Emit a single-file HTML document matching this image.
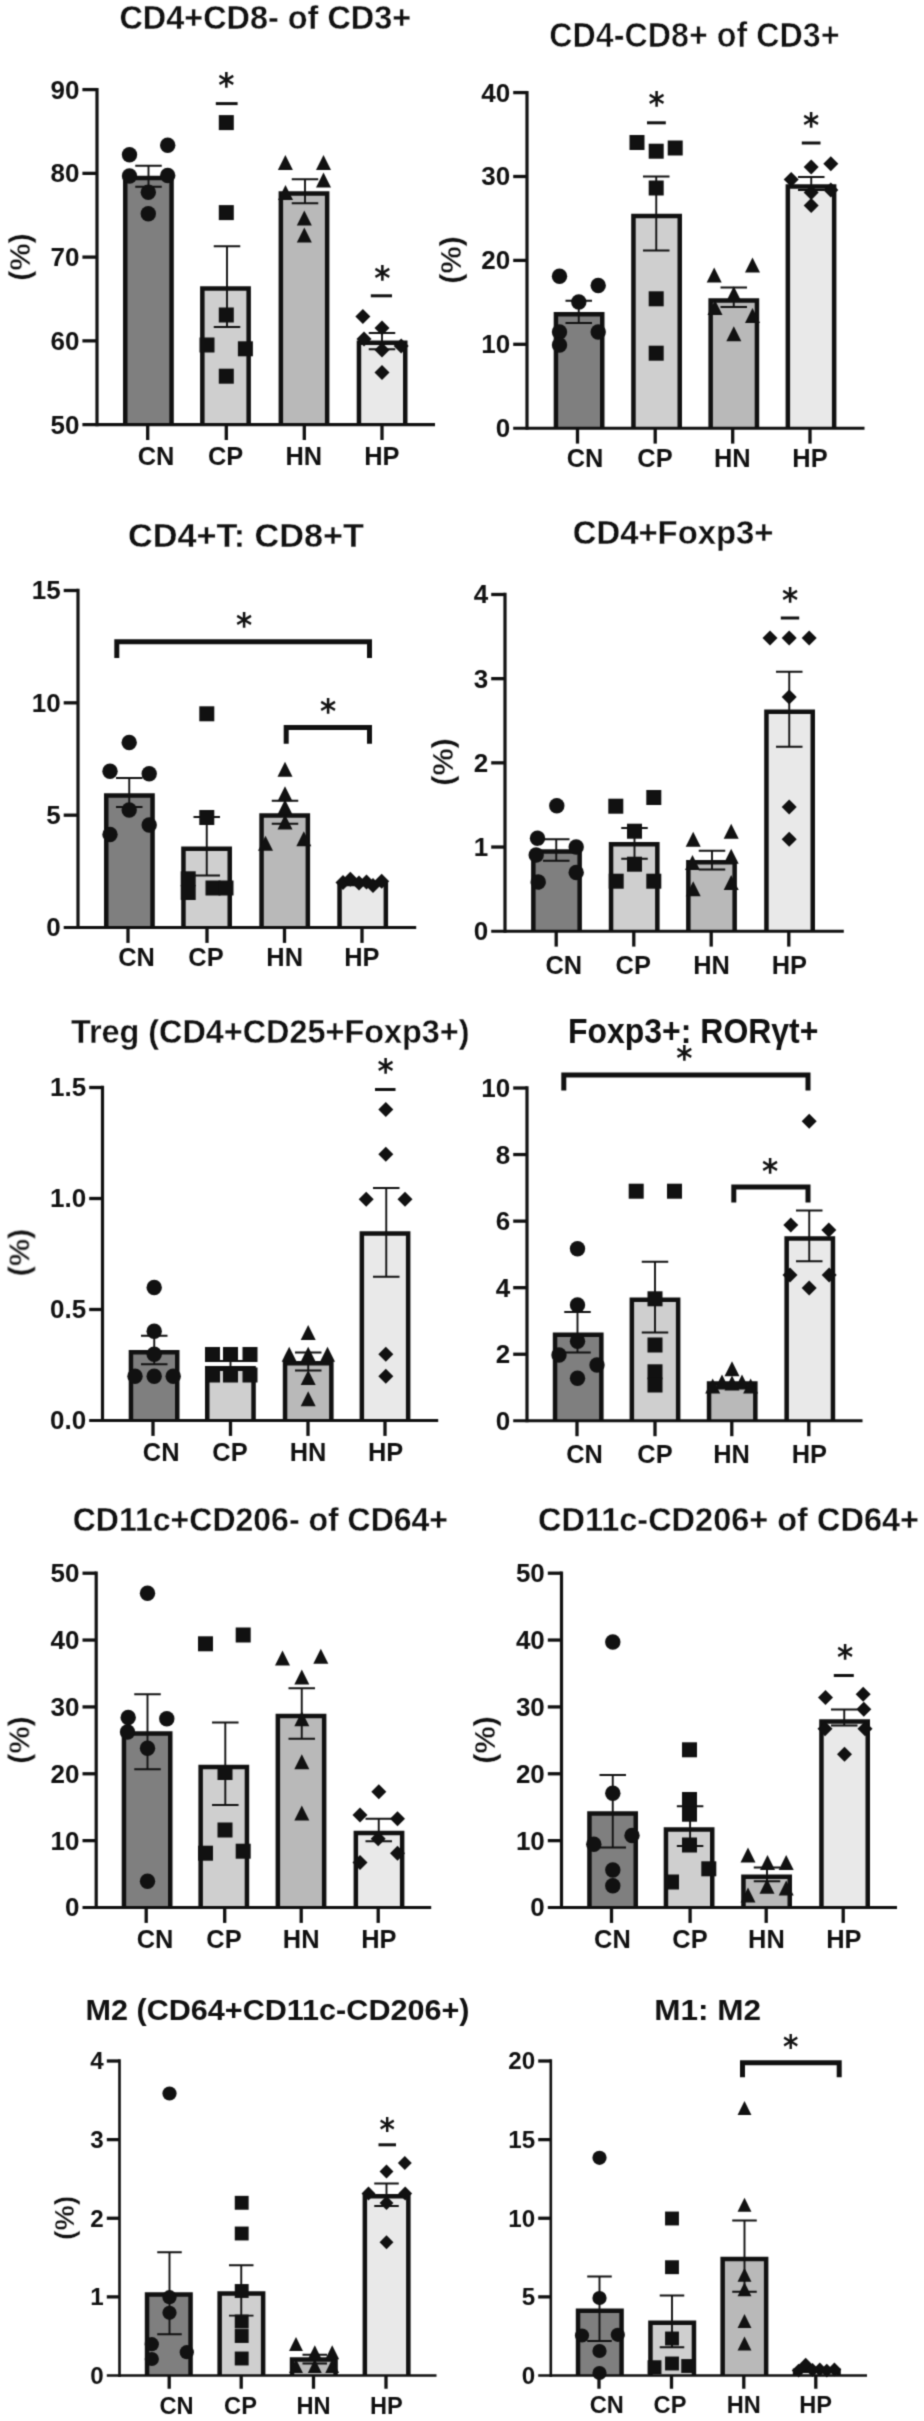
<!DOCTYPE html>
<html lang="en">
<head>
<meta charset="utf-8">
<title>Flow cytometry bar charts</title>
<style>
html,body{margin:0;padding:0;background:#fff}
body{width:924px;height:2421px;overflow:hidden}
svg{display:block}
text{font-family:"Liberation Sans", sans-serif;font-weight:bold;fill:#111111}
.ti{text-anchor:middle;stroke:#fff;paint-order:fill stroke}
.yl{text-anchor:end}
.xl{text-anchor:middle}
.yt{text-anchor:middle;stroke:#fff;stroke-width:0.35px;paint-order:fill stroke}
.st{font-family:"DejaVu Sans","Liberation Sans",sans-serif;text-anchor:middle;font-weight:bold}
.bar{stroke:#111111}
.ax{stroke:#111111;fill:none}
.xax{stroke:#111111;fill:none}
.tk{stroke:#111111;stroke-width:3.3;fill:none}
.err path{stroke:#111111;stroke-width:1.9;fill:none}
.pt{fill:#111111}
.sl{stroke:#111111;stroke-width:3.0;fill:none}
.br{stroke:#111111;stroke-width:5.0;fill:none;stroke-linejoin:miter}
</style>
</head>
<body>
<svg width="924" height="2421" viewBox="0 0 924 2421">
<defs><filter id="soft" x="0" y="0" width="924" height="2421" filterUnits="userSpaceOnUse" color-interpolation-filters="sRGB"><feConvolveMatrix order="3" kernelMatrix="0.03108 0.11414 0.03108 0.11414 0.41911 0.11414 0.03108 0.11414 0.03108" divisor="1" edgeMode="duplicate"/></filter></defs>
<rect x="0" y="0" width="924" height="2421" fill="#fff"/>
<g filter="url(#soft)">
<g class="panel">
<path class="bar" d="M125.25 424.6 V178.05 H171.55 V424.6" fill="#7f7f7f" stroke-width="4.5"/>
<path class="bar" d="M202.35 424.6 V288.45 H248.65 V424.6" fill="#cfcfcf" stroke-width="4.5"/>
<path class="bar" d="M280.85 424.6 V193.45 H327.15 V424.6" fill="#b9b9b9" stroke-width="4.5"/>
<path class="bar" d="M358.95 424.6 V342.75 H405.25 V424.6" fill="#e9e9e9" stroke-width="4.5"/>
<path class="ax" stroke-width="3.2" d="M97 87.95 V426.15"/>
<path class="xax" stroke-width="3.1" d="M82.4 424.6 H435"/>
<path class="tk" d="M82.4 89.6 H97"/>
<text class="yl" font-size="26" x="79.4" y="98.54">90</text>
<path class="tk" d="M82.4 173.35 H97"/>
<text class="yl" font-size="26" x="79.4" y="182.29">80</text>
<path class="tk" d="M82.4 257.1 H97"/>
<text class="yl" font-size="26" x="79.4" y="266.04">70</text>
<path class="tk" d="M82.4 340.85 H97"/>
<text class="yl" font-size="26" x="79.4" y="349.79">60</text>
<text class="yl" font-size="26" x="79.4" y="433.54">50</text>
<path class="tk" d="M147.7 424.6 V440"/>
<text class="xl" font-size="25.4" x="156" y="465.3">CN</text>
<path class="tk" d="M226.3 424.6 V440"/>
<text class="xl" font-size="25.4" x="225.6" y="465.3">CP</text>
<path class="tk" d="M304.3 424.6 V440"/>
<text class="xl" font-size="25.4" x="303.8" y="465.3">HN</text>
<path class="tk" d="M382 424.6 V440"/>
<text class="xl" font-size="25.4" x="381.9" y="465.3">HP</text>
<g class="err">
<path d="M148.5 165.7 V186.75 M135.25 165.7 H161.75 M135.25 186.75 H161.75"/>
<path d="M227 246.2 V327 M213.75 246.2 H240.25 M213.75 327 H240.25"/>
<path d="M305 179.2 V203.3 M291.75 179.2 H318.25 M291.75 203.3 H318.25"/>
<path d="M382 333 V349.2 M368.75 333 H395.25 M368.75 349.2 H395.25"/>
</g>
<g class="pt">
<circle cx="129.5" cy="154.7" r="7.7"/>
<circle cx="167.7" cy="145.2" r="7.7"/>
<circle cx="129.5" cy="176" r="7.7"/>
<circle cx="167.7" cy="175.5" r="7.7"/>
<circle cx="148.3" cy="192.3" r="7.7"/>
<circle cx="148.3" cy="213.8" r="7.7"/>
<rect x="218.8" y="115.1" width="15" height="15"/>
<rect x="218.8" y="205.1" width="15" height="15"/>
<rect x="218.8" y="307.5" width="15" height="15"/>
<rect x="199.5" y="337.5" width="15" height="15"/>
<rect x="237.9" y="341.3" width="15" height="15"/>
<rect x="218.8" y="368.7" width="15" height="15"/>
<polygon points="285.4,155 292.9,170 277.9,170"/>
<polygon points="323.5,155 331,170 316,170"/>
<polygon points="323.5,172.5 331,187.5 316,187.5"/>
<polygon points="285.5,185 293,200 278,200"/>
<polygon points="304.3,210.5 311.8,225.5 296.8,225.5"/>
<polygon points="304.3,227.5 311.8,242.5 296.8,242.5"/>
<polygon points="362.9,309.1 370.4,316.6 362.9,324.1 355.4,316.6"/>
<polygon points="382,320.5 389.5,328 382,335.5 374.5,328"/>
<polygon points="364,331.5 371.5,339 364,346.5 356.5,339"/>
<polygon points="401.2,338.5 408.7,346 401.2,353.5 393.7,346"/>
<polygon points="382,342.5 389.5,350 382,357.5 374.5,350"/>
<polygon points="382,365 389.5,372.5 382,380 374.5,372.5"/>
</g>
<text class="ti" font-size="33" stroke-width="0.3" x="265.3" y="28.8" textLength="291.7" lengthAdjust="spacingAndGlyphs">CD4+CD8- of CD3+</text>
<text class="yt" font-size="29" transform="translate(30.1 257) rotate(-90)" textLength="47.5" lengthAdjust="spacingAndGlyphs">(%)</text>
<text class="st" font-size="31" transform="translate(226.3 80) scale(1 1.1)" y="15.59">*</text>
<text class="st" font-size="31" transform="translate(382.3 272.4) scale(1 1.1)" y="15.59">*</text>
<path class="sl" d="M215.8 103.6 H237.6"/>
<path class="sl" d="M370.8 295.8 H392"/>
</g>
<g class="panel">
<path class="bar" d="M555.95 428.2 V314.25 H602.25 V428.2" fill="#7f7f7f" stroke-width="4.5"/>
<path class="bar" d="M633.45 428.2 V216.05 H679.75 V428.2" fill="#cfcfcf" stroke-width="4.5"/>
<path class="bar" d="M710.65 428.2 V300.45 H756.95 V428.2" fill="#b9b9b9" stroke-width="4.5"/>
<path class="bar" d="M787.85 428.2 V186.45 H834.15 V428.2" fill="#e9e9e9" stroke-width="4.5"/>
<path class="ax" stroke-width="3.2" d="M527 90.95 V429.75"/>
<path class="xax" stroke-width="3.1" d="M513.2 428.2 H864.5"/>
<path class="tk" d="M513.2 92.6 H527"/>
<text class="yl" font-size="26" x="510.2" y="101.54">40</text>
<path class="tk" d="M513.2 176.5 H527"/>
<text class="yl" font-size="26" x="510.2" y="185.44">30</text>
<path class="tk" d="M513.2 260.4 H527"/>
<text class="yl" font-size="26" x="510.2" y="269.34">20</text>
<path class="tk" d="M513.2 344.3 H527"/>
<text class="yl" font-size="26" x="510.2" y="353.24">10</text>
<text class="yl" font-size="26" x="510.2" y="437.14">0</text>
<path class="tk" d="M577.5 428.2 V443.6"/>
<text class="xl" font-size="25.4" x="585" y="467.3">CN</text>
<path class="tk" d="M655.2 428.2 V443.6"/>
<text class="xl" font-size="25.4" x="655" y="467.3">CP</text>
<path class="tk" d="M732.7 428.2 V443.6"/>
<text class="xl" font-size="25.4" x="732.3" y="467.3">HN</text>
<path class="tk" d="M810 428.2 V443.6"/>
<text class="xl" font-size="25.4" x="810" y="467.3">HP</text>
<g class="err">
<path d="M578.75 300.75 V323 M565.5 300.75 H592 M565.5 323 H592"/>
<path d="M656.25 176.5 V250.5 M643 176.5 H669.5 M643 250.5 H669.5"/>
<path d="M733.75 287.5 V307 M720.5 287.5 H747 M720.5 307 H747"/>
<path d="M811.25 177 V190 M798 177 H824.5 M798 190 H824.5"/>
</g>
<g class="pt">
<circle cx="559.5" cy="276.2" r="7.7"/>
<circle cx="598.2" cy="285.5" r="7.7"/>
<circle cx="578.8" cy="302" r="7.7"/>
<circle cx="559.5" cy="332" r="7.7"/>
<circle cx="598.2" cy="332" r="7.7"/>
<circle cx="559.5" cy="345" r="7.7"/>
<rect x="629.5" y="135" width="15" height="15"/>
<rect x="648.7" y="143.7" width="15" height="15"/>
<rect x="667.7" y="140.5" width="15" height="15"/>
<rect x="648.7" y="180.5" width="15" height="15"/>
<rect x="648.7" y="291.3" width="15" height="15"/>
<rect x="648.7" y="345.7" width="15" height="15"/>
<polygon points="714.2,267.5 721.7,282.5 706.7,282.5"/>
<polygon points="752.5,257.5 760,272.5 745,272.5"/>
<polygon points="733.8,286.3 741.3,301.3 726.3,301.3"/>
<polygon points="715,300 722.5,315 707.5,315"/>
<polygon points="752.5,308 760,323 745,323"/>
<polygon points="733.8,326.3 741.3,341.3 726.3,341.3"/>
<polygon points="830.8,156.3 838.3,163.8 830.8,171.3 823.3,163.8"/>
<polygon points="811.2,159.5 818.7,167 811.2,174.5 803.7,167"/>
<polygon points="791.2,172 798.7,179.5 791.2,187 783.7,179.5"/>
<polygon points="830.8,182.5 838.3,190 830.8,197.5 823.3,190"/>
<polygon points="811.2,185 818.7,192.5 811.2,200 803.7,192.5"/>
<polygon points="811.2,198 818.7,205.5 811.2,213 803.7,205.5"/>
</g>
<text class="ti" font-size="34.5" stroke-width="0.6" x="694.4" y="47.3" textLength="290.3" lengthAdjust="spacingAndGlyphs">CD4-CD8+ of CD3+</text>
<text class="yt" font-size="29" transform="translate(460.9 260) rotate(-90)" textLength="47.5" lengthAdjust="spacingAndGlyphs">(%)</text>
<text class="st" font-size="31" transform="translate(656.7 99.1) scale(1 1.1)" y="15.59">*</text>
<text class="st" font-size="31" transform="translate(811.2 119.6) scale(1 1.1)" y="15.59">*</text>
<path class="sl" d="M647 122.8 H665.8"/>
<path class="sl" d="M801.8 143 H820.5"/>
</g>
<g class="panel">
<path class="bar" d="M106.25 927.5 V795.45 H152.55 V927.5" fill="#7f7f7f" stroke-width="4.5"/>
<path class="bar" d="M183.45 927.5 V848.85 H229.75 V927.5" fill="#cfcfcf" stroke-width="4.5"/>
<path class="bar" d="M261.55 927.5 V815.45 H307.85 V927.5" fill="#b9b9b9" stroke-width="4.5"/>
<path class="bar" d="M339.55 927.5 V884.05 H385.85 V927.5" fill="#e9e9e9" stroke-width="4.5"/>
<path class="ax" stroke-width="3.2" d="M78 588.85 V929.05"/>
<path class="xax" stroke-width="3.1" d="M63.7 927.5 H416.2"/>
<path class="tk" d="M63.7 590.5 H78"/>
<text class="yl" font-size="26" x="60.7" y="599.44">15</text>
<path class="tk" d="M63.7 702.83 H78"/>
<text class="yl" font-size="26" x="60.7" y="711.78">10</text>
<path class="tk" d="M63.7 815.17 H78"/>
<text class="yl" font-size="26" x="60.7" y="824.11">5</text>
<text class="yl" font-size="26" x="60.7" y="936.44">0</text>
<path class="tk" d="M128 927.5 V942.9"/>
<text class="xl" font-size="25.4" x="136.5" y="966.3">CN</text>
<path class="tk" d="M207 927.5 V942.9"/>
<text class="xl" font-size="25.4" x="206" y="966.3">CP</text>
<path class="tk" d="M284.5 927.5 V942.9"/>
<text class="xl" font-size="25.4" x="284.7" y="966.3">HN</text>
<path class="tk" d="M362 927.5 V942.9"/>
<text class="xl" font-size="25.4" x="361.9" y="966.3">HP</text>
<g class="err">
<path d="M129.25 778 V807 M116 778 H142.5 M116 807 H142.5"/>
<path d="M206.75 817 V875.5 M193.5 817 H220 M193.5 875.5 H220"/>
<path d="M285 800.75 V823.75 M271.75 800.75 H298.25 M271.75 823.75 H298.25"/>
</g>
<g class="pt">
<circle cx="129.2" cy="742.5" r="7.7"/>
<circle cx="110" cy="771.2" r="7.7"/>
<circle cx="149.2" cy="773.8" r="7.7"/>
<circle cx="129.2" cy="810" r="7.7"/>
<circle cx="149.2" cy="825" r="7.7"/>
<circle cx="110" cy="834.5" r="7.7"/>
<rect x="199.3" y="706.3" width="15" height="15"/>
<rect x="199.3" y="810" width="15" height="15"/>
<rect x="180.7" y="871.3" width="15" height="15"/>
<rect x="180.7" y="885" width="15" height="15"/>
<rect x="205.5" y="880.5" width="15" height="15"/>
<rect x="218.5" y="880.5" width="15" height="15"/>
<polygon points="285,761.7 292.5,776.7 277.5,776.7"/>
<polygon points="285,786.3 292.5,801.3 277.5,801.3"/>
<polygon points="285,799.5 292.5,814.5 277.5,814.5"/>
<polygon points="285,814.5 292.5,829.5 277.5,829.5"/>
<polygon points="265.5,835.7 273,850.7 258,850.7"/>
<polygon points="303.8,831.3 311.3,846.3 296.3,846.3"/>
<polygon points="343,875 350.5,882.5 343,890 335.5,882.5"/>
<polygon points="350.3,871.8 357.8,879.3 350.3,886.8 342.8,879.3"/>
<polygon points="359,875.5 366.5,883 359,890.5 351.5,883"/>
<polygon points="366.5,874.5 374,882 366.5,889.5 359,882"/>
<polygon points="373,878.1 380.5,885.6 373,893.1 365.5,885.6"/>
<polygon points="381.7,873.8 389.2,881.3 381.7,888.8 374.2,881.3"/>
</g>
<text class="ti" font-size="33" stroke-width="0.3" x="246" y="547" textLength="236" lengthAdjust="spacingAndGlyphs">CD4+T: CD8+T</text>
<text class="st" font-size="31" transform="translate(244.2 620) scale(1 1.1)" y="15.59">*</text>
<text class="st" font-size="31" transform="translate(328.2 705.5) scale(1 1.1)" y="15.59">*</text>
<path class="br" d="M116.8 658 V641.8 H369.5 V658"/>
<path class="br" d="M286.2 743.8 V727.5 H369.5 V743.8"/>
</g>
<g class="panel">
<path class="bar" d="M533.35 931.2 V851.45 H579.65 V931.2" fill="#7f7f7f" stroke-width="4.5"/>
<path class="bar" d="M611.05 931.2 V844.25 H657.35 V931.2" fill="#cfcfcf" stroke-width="4.5"/>
<path class="bar" d="M688.35 931.2 V862.25 H734.65 V931.2" fill="#b9b9b9" stroke-width="4.5"/>
<path class="bar" d="M766.45 931.2 V711.75 H812.75 V931.2" fill="#e9e9e9" stroke-width="4.5"/>
<path class="ax" stroke-width="3.2" d="M505 592.85 V932.75"/>
<path class="xax" stroke-width="3.1" d="M491.2 931.2 H843.8"/>
<path class="tk" d="M491.2 594.5 H505"/>
<text class="yl" font-size="26" x="488.2" y="603.44">4</text>
<path class="tk" d="M491.2 678.67 H505"/>
<text class="yl" font-size="26" x="488.2" y="687.62">3</text>
<path class="tk" d="M491.2 762.85 H505"/>
<text class="yl" font-size="26" x="488.2" y="771.79">2</text>
<path class="tk" d="M491.2 847.03 H505"/>
<text class="yl" font-size="26" x="488.2" y="855.97">1</text>
<text class="yl" font-size="26" x="488.2" y="940.14">0</text>
<path class="tk" d="M556.2 931.2 V946.6"/>
<text class="xl" font-size="25.4" x="563.8" y="973.5">CN</text>
<path class="tk" d="M633.8 931.2 V946.6"/>
<text class="xl" font-size="25.4" x="633.2" y="973.5">CP</text>
<path class="tk" d="M711.2 931.2 V946.6"/>
<text class="xl" font-size="25.4" x="711.5" y="973.5">HN</text>
<path class="tk" d="M788.8 931.2 V946.6"/>
<text class="xl" font-size="25.4" x="789.4" y="973.5">HP</text>
<g class="err">
<path d="M556.25 839.25 V860.75 M543 839.25 H569.5 M543 860.75 H569.5"/>
<path d="M634.5 828 V858.75 M621.25 828 H647.75 M621.25 858.75 H647.75"/>
<path d="M712 850.75 V869.5 M698.75 850.75 H725.25 M698.75 869.5 H725.25"/>
<path d="M789.25 671.75 V746.75 M776 671.75 H802.5 M776 746.75 H802.5"/>
</g>
<g class="pt">
<circle cx="556.8" cy="805.8" r="7.7"/>
<circle cx="537.5" cy="838.2" r="7.7"/>
<circle cx="576.2" cy="847" r="7.7"/>
<circle cx="536.2" cy="855" r="7.7"/>
<circle cx="576.2" cy="872.5" r="7.7"/>
<circle cx="538.2" cy="882" r="7.7"/>
<rect x="608.3" y="798.7" width="15" height="15"/>
<rect x="646.3" y="790" width="15" height="15"/>
<rect x="627" y="823.7" width="15" height="15"/>
<rect x="627" y="856.7" width="15" height="15"/>
<rect x="608.7" y="873.7" width="15" height="15"/>
<rect x="646.3" y="873.7" width="15" height="15"/>
<polygon points="693.2,831.7 700.7,846.7 685.7,846.7"/>
<polygon points="731.2,823.7 738.7,838.7 723.7,838.7"/>
<polygon points="731.2,848.7 738.7,863.7 723.7,863.7"/>
<polygon points="692.5,855 700,870 685,870"/>
<polygon points="731.2,875 738.7,890 723.7,890"/>
<polygon points="693.2,881.3 700.7,896.3 685.7,896.3"/>
<polygon points="770,630.5 777.5,638 770,645.5 762.5,638"/>
<polygon points="789.2,630.5 796.7,638 789.2,645.5 781.7,638"/>
<polygon points="809.2,630.5 816.7,638 809.2,645.5 801.7,638"/>
<polygon points="789.2,689.5 796.7,697 789.2,704.5 781.7,697"/>
<polygon points="789.2,799.5 796.7,807 789.2,814.5 781.7,807"/>
<polygon points="789.2,831.7 796.7,839.2 789.2,846.7 781.7,839.2"/>
</g>
<text class="ti" font-size="33" stroke-width="0.3" x="673.1" y="544.3" textLength="200.8" lengthAdjust="spacingAndGlyphs">CD4+Foxp3+</text>
<text class="yt" font-size="29" transform="translate(453.1 762) rotate(-90)" textLength="47.5" lengthAdjust="spacingAndGlyphs">(%)</text>
<text class="st" font-size="31" transform="translate(790 594.4) scale(1 1.1)" y="15.59">*</text>
<path class="sl" d="M780.8 618 H799.2"/>
</g>
<g class="panel">
<path class="bar" d="M130.95 1420.5 V1352.25 H177.25 V1420.5" fill="#7f7f7f" stroke-width="4.5"/>
<path class="bar" d="M207.25 1420.5 V1368.25 H253.55 V1420.5" fill="#cfcfcf" stroke-width="4.5"/>
<path class="bar" d="M285.05 1420.5 V1363.25 H331.35 V1420.5" fill="#b9b9b9" stroke-width="4.5"/>
<path class="bar" d="M361.85 1420.5 V1233.45 H408.15 V1420.5" fill="#e9e9e9" stroke-width="4.5"/>
<path class="ax" stroke-width="3.2" d="M102.5 1085.85 V1422.05"/>
<path class="xax" stroke-width="3.1" d="M89.2 1420.5 H438.2"/>
<path class="tk" d="M89.2 1087.5 H102.5"/>
<text class="yl" font-size="26" x="86.2" y="1096.44">1.5</text>
<path class="tk" d="M89.2 1198.5 H102.5"/>
<text class="yl" font-size="26" x="86.2" y="1207.44">1.0</text>
<path class="tk" d="M89.2 1309.5 H102.5"/>
<text class="yl" font-size="26" x="86.2" y="1318.44">0.5</text>
<text class="yl" font-size="26" x="86.2" y="1429.44">0.0</text>
<path class="tk" d="M153 1420.5 V1435.9"/>
<text class="xl" font-size="25.4" x="161.2" y="1460.5">CN</text>
<path class="tk" d="M230.5 1420.5 V1435.9"/>
<text class="xl" font-size="25.4" x="230" y="1460.5">CP</text>
<path class="tk" d="M308 1420.5 V1435.9"/>
<text class="xl" font-size="25.4" x="308" y="1460.5">HN</text>
<path class="tk" d="M385 1420.5 V1435.9"/>
<text class="xl" font-size="25.4" x="385.6" y="1460.5">HP</text>
<g class="err">
<path d="M154.25 1335.75 V1364.25 M141 1335.75 H167.5 M141 1364.25 H167.5"/>
<path d="M230.5 1361 V1370 M217.25 1361 H243.75 M217.25 1370 H243.75"/>
<path d="M308.25 1352.5 V1370.5 M295 1352.5 H321.5 M295 1370.5 H321.5"/>
<path d="M386.25 1188 V1276.75 M373 1188 H399.5 M373 1276.75 H399.5"/>
</g>
<g class="pt">
<circle cx="154.2" cy="1287.5" r="7.7"/>
<circle cx="154.2" cy="1331.2" r="7.7"/>
<circle cx="154.2" cy="1354.2" r="7.7"/>
<circle cx="135" cy="1376.2" r="7.7"/>
<circle cx="154.2" cy="1376.2" r="7.7"/>
<circle cx="173.2" cy="1376.2" r="7.7"/>
<rect x="205" y="1347" width="15" height="15"/>
<rect x="223" y="1347" width="15" height="15"/>
<rect x="242.5" y="1347" width="15" height="15"/>
<rect x="205" y="1367.5" width="15" height="15"/>
<rect x="223" y="1367.5" width="15" height="15"/>
<rect x="242.5" y="1367.5" width="15" height="15"/>
<polygon points="308.2,1325 315.7,1340 300.7,1340"/>
<polygon points="289.2,1346.7 296.7,1361.7 281.7,1361.7"/>
<polygon points="308.2,1346.7 315.7,1361.7 300.7,1361.7"/>
<polygon points="327.5,1346.7 335,1361.7 320,1361.7"/>
<polygon points="308.2,1370 315.7,1385 300.7,1385"/>
<polygon points="308.2,1391.3 315.7,1406.3 300.7,1406.3"/>
<polygon points="385.8,1102 393.3,1109.5 385.8,1117 378.3,1109.5"/>
<polygon points="385.8,1146.7 393.3,1154.2 385.8,1161.7 378.3,1154.2"/>
<polygon points="366.2,1191.7 373.7,1199.2 366.2,1206.7 358.7,1199.2"/>
<polygon points="405,1191.7 412.5,1199.2 405,1206.7 397.5,1199.2"/>
<polygon points="385.8,1346.7 393.3,1354.2 385.8,1361.7 378.3,1354.2"/>
<polygon points="385.8,1368.7 393.3,1376.2 385.8,1383.7 378.3,1376.2"/>
</g>
<text class="ti" font-size="33" stroke-width="0.3" x="270.2" y="1043.2" textLength="398.5" lengthAdjust="spacingAndGlyphs">Treg (CD4+CD25+Foxp3+)</text>
<text class="yt" font-size="29" transform="translate(29.4 1252.5) rotate(-90)" textLength="47.5" lengthAdjust="spacingAndGlyphs">(%)</text>
<text class="st" font-size="31" transform="translate(385.5 1066) scale(1 1.1)" y="15.59">*</text>
<path class="sl" d="M375 1089.5 H395.5"/>
</g>
<g class="panel">
<path class="bar" d="M555.05 1420.8 V1334.75 H601.35 V1420.8" fill="#7f7f7f" stroke-width="4.5"/>
<path class="bar" d="M631.85 1420.8 V1299.75 H678.15 V1420.8" fill="#cfcfcf" stroke-width="4.5"/>
<path class="bar" d="M709.05 1420.8 V1383.45 H755.35 V1420.8" fill="#b9b9b9" stroke-width="4.5"/>
<path class="bar" d="M786.65 1420.8 V1238.45 H832.95 V1420.8" fill="#e9e9e9" stroke-width="4.5"/>
<path class="ax" stroke-width="3.2" d="M527 1086.35 V1422.35"/>
<path class="xax" stroke-width="3.1" d="M513.2 1420.8 H862.5"/>
<path class="tk" d="M513.2 1088 H527"/>
<text class="yl" font-size="26" x="510.2" y="1096.94">10</text>
<path class="tk" d="M513.2 1154.56 H527"/>
<text class="yl" font-size="26" x="510.2" y="1163.5">8</text>
<path class="tk" d="M513.2 1221.12 H527"/>
<text class="yl" font-size="26" x="510.2" y="1230.06">6</text>
<path class="tk" d="M513.2 1287.68 H527"/>
<text class="yl" font-size="26" x="510.2" y="1296.62">4</text>
<path class="tk" d="M513.2 1354.24 H527"/>
<text class="yl" font-size="26" x="510.2" y="1363.18">2</text>
<text class="yl" font-size="26" x="510.2" y="1429.74">0</text>
<path class="tk" d="M577 1420.8 V1436.2"/>
<text class="xl" font-size="25.4" x="584.5" y="1462.5">CN</text>
<path class="tk" d="M655 1420.8 V1436.2"/>
<text class="xl" font-size="25.4" x="655" y="1462.5">CP</text>
<path class="tk" d="M731.8 1420.8 V1436.2"/>
<text class="xl" font-size="25.4" x="731.5" y="1462.5">HN</text>
<path class="tk" d="M808.8 1420.8 V1436.2"/>
<text class="xl" font-size="25.4" x="809.4" y="1462.5">HP</text>
<g class="err">
<path d="M577.5 1312 V1352.5 M564.25 1312 H590.75 M564.25 1352.5 H590.75"/>
<path d="M655 1261.75 V1332.5 M641.75 1261.75 H668.25 M641.75 1332.5 H668.25"/>
<path d="M809.25 1210.5 V1261.25 M796 1210.5 H822.5 M796 1261.25 H822.5"/>
</g>
<g class="pt">
<circle cx="577.5" cy="1248.8" r="7.7"/>
<circle cx="577.5" cy="1305" r="7.7"/>
<circle cx="577.5" cy="1341.2" r="7.7"/>
<circle cx="559" cy="1355" r="7.7"/>
<circle cx="597" cy="1365" r="7.7"/>
<circle cx="577.5" cy="1378.2" r="7.7"/>
<rect x="628.7" y="1183.7" width="15" height="15"/>
<rect x="667" y="1183.7" width="15" height="15"/>
<rect x="647.5" y="1291.3" width="15" height="15"/>
<rect x="647.5" y="1337.5" width="15" height="15"/>
<rect x="647.5" y="1364.3" width="15" height="15"/>
<rect x="647.5" y="1377.5" width="15" height="15"/>
<polygon points="732,1361.2 739.5,1376.2 724.5,1376.2"/>
<polygon points="712.7,1378.5 720.2,1393.5 705.2,1393.5"/>
<polygon points="722,1374.5 729.5,1389.5 714.5,1389.5"/>
<polygon points="732,1375.5 739.5,1390.5 724.5,1390.5"/>
<polygon points="742,1374.5 749.5,1389.5 734.5,1389.5"/>
<polygon points="750.6,1378.5 758.1,1393.5 743.1,1393.5"/>
<polygon points="809.2,1113.7 816.7,1121.2 809.2,1128.7 801.7,1121.2"/>
<polygon points="790.8,1217.5 798.3,1225 790.8,1232.5 783.3,1225"/>
<polygon points="828.8,1222.5 836.3,1230 828.8,1237.5 821.3,1230"/>
<polygon points="790,1267.5 797.5,1275 790,1282.5 782.5,1275"/>
<polygon points="829.2,1267.5 836.7,1275 829.2,1282.5 821.7,1275"/>
<polygon points="809.2,1280.5 816.7,1288 809.2,1295.5 801.7,1288"/>
</g>
<text class="ti" font-size="34.5" stroke-width="0" x="693.2" y="1042.5" textLength="250.5" lengthAdjust="spacingAndGlyphs">Foxp3+: RORγt+</text>
<text class="st" font-size="31" transform="translate(684.4 1052.8) scale(1 1.1)" y="15.59">*</text>
<text class="st" font-size="31" transform="translate(770 1165.5) scale(1 1.1)" y="15.59">*</text>
<path class="br" d="M563.8 1090.5 V1075 H808 V1090.5"/>
<path class="br" d="M733.8 1202.5 V1187 H808 V1202.5"/>
</g>
<g class="panel">
<path class="bar" d="M123.95 1907.5 V1733.45 H170.25 V1907.5" fill="#7f7f7f" stroke-width="4.5"/>
<path class="bar" d="M200.65 1907.5 V1767.05 H246.95 V1907.5" fill="#cfcfcf" stroke-width="4.5"/>
<path class="bar" d="M277.85 1907.5 V1716.05 H324.15 V1907.5" fill="#b9b9b9" stroke-width="4.5"/>
<path class="bar" d="M355.85 1907.5 V1833.05 H402.15 V1907.5" fill="#e9e9e9" stroke-width="4.5"/>
<path class="ax" stroke-width="3.2" d="M96.2 1571.55 V1909.05"/>
<path class="xax" stroke-width="3.1" d="M82.5 1907.5 H431.2"/>
<path class="tk" d="M82.5 1573.2 H96.2"/>
<text class="yl" font-size="26" x="79.5" y="1582.14">50</text>
<path class="tk" d="M82.5 1640.06 H96.2"/>
<text class="yl" font-size="26" x="79.5" y="1649">40</text>
<path class="tk" d="M82.5 1706.92 H96.2"/>
<text class="yl" font-size="26" x="79.5" y="1715.86">30</text>
<path class="tk" d="M82.5 1773.78 H96.2"/>
<text class="yl" font-size="26" x="79.5" y="1782.72">20</text>
<path class="tk" d="M82.5 1840.64 H96.2"/>
<text class="yl" font-size="26" x="79.5" y="1849.58">10</text>
<text class="yl" font-size="26" x="79.5" y="1916.44">0</text>
<path class="tk" d="M146.2 1907.5 V1922.9"/>
<text class="xl" font-size="25.4" x="155" y="1948">CN</text>
<path class="tk" d="M224.7 1907.5 V1922.9"/>
<text class="xl" font-size="25.4" x="224" y="1948">CP</text>
<path class="tk" d="M301.2 1907.5 V1922.9"/>
<text class="xl" font-size="25.4" x="301.2" y="1948">HN</text>
<path class="tk" d="M378.2 1907.5 V1922.9"/>
<text class="xl" font-size="25.4" x="378.8" y="1948">HP</text>
<g class="err">
<path d="M147.5 1694.25 V1769.25 M134.25 1694.25 H160.75 M134.25 1769.25 H160.75"/>
<path d="M225.3 1722.5 V1805 M212.05 1722.5 H238.55 M212.05 1805 H238.55"/>
<path d="M301.75 1688.25 V1738.75 M288.5 1688.25 H315 M288.5 1738.75 H315"/>
<path d="M378.75 1818.75 V1841.25 M365.5 1818.75 H392 M365.5 1841.25 H392"/>
</g>
<g class="pt">
<circle cx="147.5" cy="1593.2" r="7.7"/>
<circle cx="128.2" cy="1717.5" r="7.7"/>
<circle cx="166.8" cy="1718.8" r="7.7"/>
<circle cx="127.5" cy="1732" r="7.7"/>
<circle cx="147.5" cy="1748.2" r="7.7"/>
<circle cx="147.5" cy="1881.2" r="7.7"/>
<rect x="198" y="1636.3" width="15" height="15"/>
<rect x="235.7" y="1627.5" width="15" height="15"/>
<rect x="217.5" y="1765" width="15" height="15"/>
<rect x="217.5" y="1822.5" width="15" height="15"/>
<rect x="198" y="1845.7" width="15" height="15"/>
<rect x="235.7" y="1843.7" width="15" height="15"/>
<polygon points="282.5,1650.5 290,1665.5 275,1665.5"/>
<polygon points="320.8,1648.7 328.3,1663.7 313.3,1663.7"/>
<polygon points="301.8,1669.5 309.3,1684.5 294.3,1684.5"/>
<polygon points="301.8,1711.3 309.3,1726.3 294.3,1726.3"/>
<polygon points="301.8,1754.3 309.3,1769.3 294.3,1769.3"/>
<polygon points="301.8,1805.5 309.3,1820.5 294.3,1820.5"/>
<polygon points="378.8,1784.3 386.3,1791.8 378.8,1799.3 371.3,1791.8"/>
<polygon points="360,1807.5 367.5,1815 360,1822.5 352.5,1815"/>
<polygon points="397.5,1811.3 405,1818.8 397.5,1826.3 390,1818.8"/>
<polygon points="378.2,1831.3 385.7,1838.8 378.2,1846.3 370.7,1838.8"/>
<polygon points="397.5,1845.7 405,1853.2 397.5,1860.7 390,1853.2"/>
<polygon points="360,1855 367.5,1862.5 360,1870 352.5,1862.5"/>
</g>
<text class="ti" font-size="33" stroke-width="0.3" x="260.4" y="1530.8" textLength="375.3" lengthAdjust="spacingAndGlyphs">CD11c+CD206- of CD64+</text>
<text class="yt" font-size="29" transform="translate(29.4 1740) rotate(-90)" textLength="47.5" lengthAdjust="spacingAndGlyphs">(%)</text>
</g>
<g class="panel">
<path class="bar" d="M589.45 1907.5 V1813.45 H635.75 V1907.5" fill="#7f7f7f" stroke-width="4.5"/>
<path class="bar" d="M665.95 1907.5 V1829.45 H712.25 V1907.5" fill="#cfcfcf" stroke-width="4.5"/>
<path class="bar" d="M743.45 1907.5 V1876.75 H789.75 V1907.5" fill="#b9b9b9" stroke-width="4.5"/>
<path class="bar" d="M821.45 1907.5 V1721.45 H867.75 V1907.5" fill="#e9e9e9" stroke-width="4.5"/>
<path class="ax" stroke-width="3.2" d="M561.5 1571.55 V1909.05"/>
<path class="xax" stroke-width="3.1" d="M547.8 1907.5 H897"/>
<path class="tk" d="M547.8 1573.2 H561.5"/>
<text class="yl" font-size="26" x="544.8" y="1582.14">50</text>
<path class="tk" d="M547.8 1640.06 H561.5"/>
<text class="yl" font-size="26" x="544.8" y="1649">40</text>
<path class="tk" d="M547.8 1706.92 H561.5"/>
<text class="yl" font-size="26" x="544.8" y="1715.86">30</text>
<path class="tk" d="M547.8 1773.78 H561.5"/>
<text class="yl" font-size="26" x="544.8" y="1782.72">20</text>
<path class="tk" d="M547.8 1840.64 H561.5"/>
<text class="yl" font-size="26" x="544.8" y="1849.58">10</text>
<text class="yl" font-size="26" x="544.8" y="1916.44">0</text>
<path class="tk" d="M611.5 1907.5 V1922.9"/>
<text class="xl" font-size="25.4" x="612.4" y="1948">CN</text>
<path class="tk" d="M690.1 1907.5 V1922.9"/>
<text class="xl" font-size="25.4" x="690" y="1948">CP</text>
<path class="tk" d="M766.2 1907.5 V1922.9"/>
<text class="xl" font-size="25.4" x="766.4" y="1948">HN</text>
<path class="tk" d="M843.2 1907.5 V1922.9"/>
<text class="xl" font-size="25.4" x="843.8" y="1948">HP</text>
<g class="err">
<path d="M612.75 1775 V1847.5 M599.5 1775 H626 M599.5 1847.5 H626"/>
<path d="M690.1 1806.25 V1846 M676.85 1806.25 H703.35 M676.85 1846 H703.35"/>
<path d="M767 1867.5 V1881.25 M753.75 1867.5 H780.25 M753.75 1881.25 H780.25"/>
<path d="M844.25 1709.5 V1725.5 M831 1709.5 H857.5 M831 1725.5 H857.5"/>
</g>
<g class="pt">
<circle cx="612.8" cy="1642" r="7.7"/>
<circle cx="612.8" cy="1793.2" r="7.7"/>
<circle cx="632" cy="1835.5" r="7.7"/>
<circle cx="593.8" cy="1844.2" r="7.7"/>
<circle cx="612.8" cy="1870" r="7.7"/>
<circle cx="612.8" cy="1885.8" r="7.7"/>
<rect x="682" y="1742.3" width="15" height="15"/>
<rect x="682" y="1792" width="15" height="15"/>
<rect x="682" y="1806.7" width="15" height="15"/>
<rect x="682" y="1837.5" width="15" height="15"/>
<rect x="664" y="1874.5" width="15" height="15"/>
<rect x="701.3" y="1861.3" width="15" height="15"/>
<polygon points="748,1847.5 755.5,1862.5 740.5,1862.5"/>
<polygon points="767.5,1855 775,1870 760,1870"/>
<polygon points="786.2,1855 793.7,1870 778.7,1870"/>
<polygon points="767,1878.7 774.5,1893.7 759.5,1893.7"/>
<polygon points="786.2,1880.5 793.7,1895.5 778.7,1895.5"/>
<polygon points="748,1887.5 755.5,1902.5 740.5,1902.5"/>
<polygon points="825.5,1690 833,1697.5 825.5,1705 818,1697.5"/>
<polygon points="863.2,1686.7 870.7,1694.2 863.2,1701.7 855.7,1694.2"/>
<polygon points="863.8,1701.7 871.3,1709.2 863.8,1716.7 856.3,1709.2"/>
<polygon points="825,1721.3 832.5,1728.8 825,1736.3 817.5,1728.8"/>
<polygon points="865,1721.3 872.5,1728.8 865,1736.3 857.5,1728.8"/>
<polygon points="844.5,1746.7 852,1754.2 844.5,1761.7 837,1754.2"/>
</g>
<text class="ti" font-size="33" stroke-width="0.3" x="728.5" y="1530.8" textLength="381" lengthAdjust="spacingAndGlyphs">CD11c-CD206+ of CD64+</text>
<text class="yt" font-size="29" transform="translate(495.1 1740) rotate(-90)" textLength="47.5" lengthAdjust="spacingAndGlyphs">(%)</text>
<text class="st" font-size="31" transform="translate(845 1652) scale(1 1.1)" y="15.59">*</text>
<path class="sl" d="M833.8 1675.5 H853.8"/>
</g>
<g class="panel">
<path class="bar" d="M147.05 2375.5 V2294.45 H190.55 V2375.5" fill="#7f7f7f" stroke-width="4.5"/>
<path class="bar" d="M219.65 2375.5 V2293.45 H263.15 V2375.5" fill="#cfcfcf" stroke-width="4.5"/>
<path class="bar" d="M292.05 2375.5 V2359.45 H335.55 V2375.5" fill="#b9b9b9" stroke-width="4.5"/>
<path class="bar" d="M364.85 2375.5 V2196.25 H408.35 V2375.5" fill="#e9e9e9" stroke-width="4.5"/>
<path class="ax" stroke-width="2.62" d="M119.5 2059.35 V2377.05"/>
<path class="xax" stroke-width="2.54" d="M106.8 2375.5 H436.5"/>
<path class="tk" d="M106.8 2061 H119.5"/>
<text class="yl" font-size="24.18" x="103.8" y="2069.32">4</text>
<path class="tk" d="M106.8 2139.62 H119.5"/>
<text class="yl" font-size="24.18" x="103.8" y="2147.94">3</text>
<path class="tk" d="M106.8 2218.25 H119.5"/>
<text class="yl" font-size="24.18" x="103.8" y="2226.57">2</text>
<path class="tk" d="M106.8 2296.88 H119.5"/>
<text class="yl" font-size="24.18" x="103.8" y="2305.19">1</text>
<text class="yl" font-size="24.18" x="103.8" y="2383.82">0</text>
<path class="tk" d="M169.2 2375.5 V2388.74"/>
<text class="xl" font-size="23.62" x="176.6" y="2413.5">CN</text>
<path class="tk" d="M241.2 2375.5 V2388.74"/>
<text class="xl" font-size="23.62" x="240.5" y="2413.5">CP</text>
<path class="tk" d="M313.5 2375.5 V2388.74"/>
<text class="xl" font-size="23.62" x="313.5" y="2413.5">HN</text>
<path class="tk" d="M386 2375.5 V2388.74"/>
<text class="xl" font-size="23.62" x="386.4" y="2413.5">HP</text>
<g class="err">
<path d="M169.5 2252.25 V2334.25 M157.24 2252.25 H181.76 M157.24 2334.25 H181.76"/>
<path d="M241.25 2265.25 V2315.6 M228.99 2265.25 H253.51 M228.99 2315.6 H253.51"/>
<path d="M314.75 2354.75 V2363.5 M302.49 2354.75 H327.01 M302.49 2363.5 H327.01"/>
<path d="M386.5 2183.5 V2206 M374.24 2183.5 H398.76 M374.24 2206 H398.76"/>
</g>
<g class="pt">
<circle cx="169.5" cy="2093.5" r="7.12"/>
<circle cx="169.5" cy="2297.2" r="7.12"/>
<circle cx="169.5" cy="2312.8" r="7.12"/>
<circle cx="151.8" cy="2344.2" r="7.12"/>
<circle cx="186.8" cy="2352.2" r="7.12"/>
<circle cx="151.8" cy="2359" r="7.12"/>
<rect x="234.76" y="2195.86" width="13.88" height="13.88"/>
<rect x="234.76" y="2226.56" width="13.88" height="13.88"/>
<rect x="234.76" y="2284.06" width="13.88" height="13.88"/>
<rect x="234.76" y="2314.56" width="13.88" height="13.88"/>
<rect x="234.76" y="2329.06" width="13.88" height="13.88"/>
<rect x="234.76" y="2351.56" width="13.88" height="13.88"/>
<polygon points="296,2337.06 302.94,2350.94 289.06,2350.94"/>
<polygon points="314.8,2345.26 321.74,2359.14 307.86,2359.14"/>
<polygon points="332.2,2345.26 339.14,2359.14 325.26,2359.14"/>
<polygon points="296,2359.06 302.94,2372.94 289.06,2372.94"/>
<polygon points="314.8,2359.06 321.74,2372.94 307.86,2372.94"/>
<polygon points="332.2,2359.06 339.14,2372.94 325.26,2372.94"/>
<polygon points="404.8,2156.06 411.74,2163 404.8,2169.94 397.86,2163"/>
<polygon points="386.5,2164.56 393.44,2171.5 386.5,2178.44 379.56,2171.5"/>
<polygon points="368.5,2186.56 375.44,2193.5 368.5,2200.44 361.56,2193.5"/>
<polygon points="405.2,2186.56 412.14,2193.5 405.2,2200.44 398.26,2193.5"/>
<polygon points="386.5,2196.06 393.44,2203 386.5,2209.94 379.56,2203"/>
<polygon points="386.5,2235.26 393.44,2242.2 386.5,2249.14 379.56,2242.2"/>
</g>
<text class="ti" font-size="30.03" stroke-width="0" x="277.5" y="2019.8" textLength="384" lengthAdjust="spacingAndGlyphs">M2 (CD64+CD11c-CD206+)</text>
<text class="yt" font-size="26.97" transform="translate(74.1 2218) rotate(-90)" textLength="44.18" lengthAdjust="spacingAndGlyphs">(%)</text>
<text class="st" font-size="29.45" transform="translate(387.2 2123.5) scale(1 1.1)" y="14.81">*</text>
<path class="sl" d="M378.5 2144.8 H396"/>
</g>
<g class="panel">
<path class="bar" d="M578.05 2375.5 V2310.75 H621.55 V2375.5" fill="#7f7f7f" stroke-width="4.5"/>
<path class="bar" d="M650.45 2375.5 V2322.65 H693.95 V2375.5" fill="#cfcfcf" stroke-width="4.5"/>
<path class="bar" d="M722.65 2375.5 V2259.05 H766.15 V2375.5" fill="#b9b9b9" stroke-width="4.5"/>
<path class="bar" d="M795.05 2375.5 V2370.75 H838.55 V2375.5" fill="#e9e9e9" stroke-width="4.5"/>
<path class="ax" stroke-width="2.62" d="M550.8 2059.35 V2377.05"/>
<path class="xax" stroke-width="2.54" d="M538.2 2375.5 H867"/>
<path class="tk" d="M538.2 2061 H550.8"/>
<text class="yl" font-size="24.18" x="535.2" y="2069.32">20</text>
<path class="tk" d="M538.2 2139.62 H550.8"/>
<text class="yl" font-size="24.18" x="535.2" y="2147.94">15</text>
<path class="tk" d="M538.2 2218.25 H550.8"/>
<text class="yl" font-size="24.18" x="535.2" y="2226.57">10</text>
<path class="tk" d="M538.2 2296.88 H550.8"/>
<text class="yl" font-size="24.18" x="535.2" y="2305.19">5</text>
<text class="yl" font-size="24.18" x="535.2" y="2383.82">0</text>
<path class="tk" d="M599 2375.5 V2388.74"/>
<text class="xl" font-size="23.62" x="606.8" y="2412.8">CN</text>
<path class="tk" d="M671.5 2375.5 V2388.74"/>
<text class="xl" font-size="23.62" x="670" y="2412.8">CP</text>
<path class="tk" d="M743.8 2375.5 V2388.74"/>
<text class="xl" font-size="23.62" x="743.8" y="2412.8">HN</text>
<path class="tk" d="M815.8 2375.5 V2388.74"/>
<text class="xl" font-size="23.62" x="815.6" y="2412.8">HP</text>
<g class="err">
<path d="M599.5 2276.5 V2341 M587.24 2276.5 H611.76 M587.24 2341 H611.76"/>
<path d="M672 2295.5 V2347.25 M659.74 2295.5 H684.26 M659.74 2347.25 H684.26"/>
<path d="M744.5 2220.5 V2291.75 M732.24 2220.5 H756.76 M732.24 2291.75 H756.76"/>
</g>
<g class="pt">
<circle cx="599.5" cy="2157.8" r="7.12"/>
<circle cx="599.5" cy="2298" r="7.12"/>
<circle cx="582" cy="2335.5" r="7.12"/>
<circle cx="617.8" cy="2334.8" r="7.12"/>
<circle cx="599.5" cy="2351" r="7.12"/>
<circle cx="599.5" cy="2373" r="7.12"/>
<rect x="665.06" y="2211.56" width="13.88" height="13.88"/>
<rect x="665.06" y="2260.26" width="13.88" height="13.88"/>
<rect x="665.06" y="2331.56" width="13.88" height="13.88"/>
<rect x="647.56" y="2360.26" width="13.88" height="13.88"/>
<rect x="665.06" y="2356.56" width="13.88" height="13.88"/>
<rect x="681.26" y="2359.06" width="13.88" height="13.88"/>
<polygon points="744.5,2101.06 751.44,2114.94 737.56,2114.94"/>
<polygon points="744.5,2197.86 751.44,2211.74 737.56,2211.74"/>
<polygon points="744.5,2267.86 751.44,2281.74 737.56,2281.74"/>
<polygon points="744.5,2282.26 751.44,2296.14 737.56,2296.14"/>
<polygon points="744.5,2314.06 751.44,2327.94 737.56,2327.94"/>
<polygon points="744.5,2336.56 751.44,2350.44 737.56,2350.44"/>
<polygon points="798.7,2363.66 805.64,2370.6 798.7,2377.54 791.76,2370.6"/>
<polygon points="805.7,2357.86 812.64,2364.8 805.7,2371.74 798.76,2364.8"/>
<polygon points="819.8,2362.56 826.74,2369.5 819.8,2376.44 812.86,2369.5"/>
<polygon points="826.8,2363.66 833.74,2370.6 826.8,2377.54 819.86,2370.6"/>
<polygon points="834.4,2362.56 841.34,2369.5 834.4,2376.44 827.46,2369.5"/>
<polygon points="812.5,2363.06 819.44,2370 812.5,2376.94 805.56,2370"/>
</g>
<text class="ti" font-size="30.03" stroke-width="0" x="707.6" y="2019.8" textLength="106.8" lengthAdjust="spacingAndGlyphs">M1: M2</text>
<text class="st" font-size="29.45" transform="translate(790.8 2041) scale(1 1.1)" y="14.81">*</text>
<path class="br" d="M742.5 2077.2 V2062.8 H839.2 V2077.2"/>
</g>
</g>
</svg>
</body>
</html>
